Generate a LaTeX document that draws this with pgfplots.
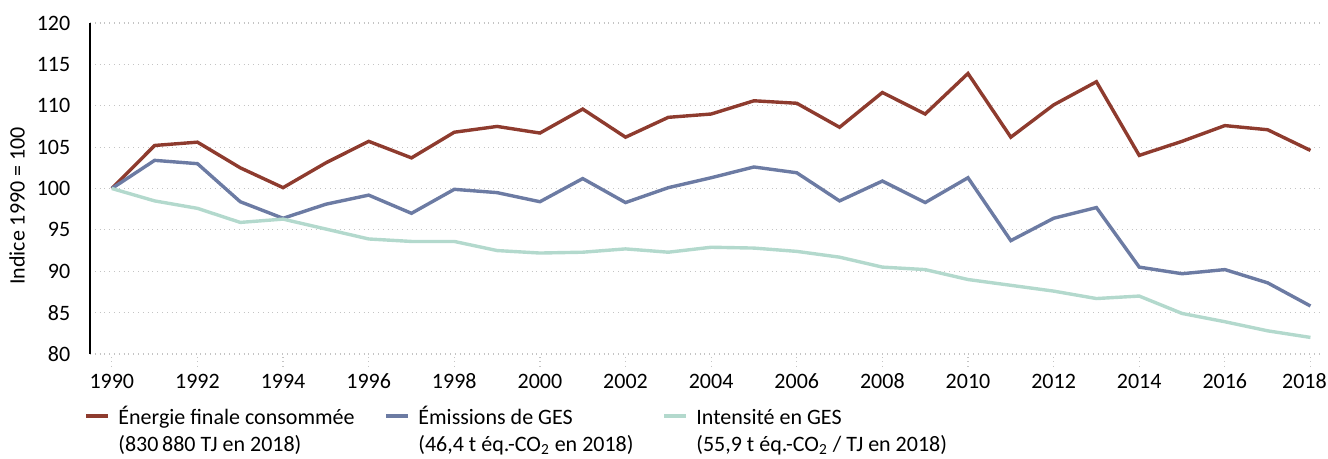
\documentclass[border=0pt]{standalone}
\usepackage{pgfplots}
\usepackage{pgfplotstable}
\pgfplotsset{compat=1.18}
\usepackage{fontspec}
\setmainfont{Carlito}
\definecolor{energie}{HTML}{8E3B2E}
\definecolor{emis}{HTML}{6C7BA3}
\definecolor{intens}{HTML}{B3D9CD}
\definecolor{gridc}{HTML}{C4C4C4}

% index 1990 = 100
\pgfplotstableread{
year  energie  emis   intens
1990  100.0    100.0  100.0
1991  105.2    103.4  98.5
1992  105.6    103.0  97.6
1993  102.5    98.4   95.9
1994  100.1    96.4   96.3
1995  103.1    98.1   95.1
1996  105.7    99.2   93.9
1997  103.7    97.0   93.6
1998  106.8    99.9   93.6
1999  107.5    99.5   92.5
2000  106.7    98.4   92.2
2001  109.6    101.2  92.3
2002  106.2    98.3   92.7
2003  108.6    100.1  92.3
2004  109.0    101.3  92.9
2005  110.6    102.6  92.8
2006  110.3    101.9  92.4
2007  107.4    98.5   91.7
2008  111.6    100.9  90.5
2009  109.0    98.3   90.2
2010  113.9    101.3  89.0
2011  106.2    93.7   88.3
2012  110.1    96.4   87.6
2013  112.9    97.7   86.7
2014  104.0    90.5   87.0
2015  105.7    89.7   84.9
2016  107.6    90.2   83.9
2017  107.1    88.6   82.8
2018  104.6    85.8   82.0
}\datatable

\newcommand{\chartfont}{\fontsize{11}{13.5}\selectfont}

\begin{document}
\chartfont
\begin{tikzpicture}
\path[use as bounding box] (0,0) rectangle (664pt,229.5pt);
\begin{axis}[
  at={(45pt,52.5pt)}, anchor=south west,
  scale only axis,
  width=616pt, height=165.5pt,
  xmin=1989.49, xmax=2018.27,
  ymin=80, ymax=120,
  xtick={1990,1992,...,2016},
  extra x ticks={2018},
  extra x tick style={xticklabel style={xshift=-3pt}},
  ytick={80,85,...,120},
  /pgf/number format/set thousands separator={},
  /pgf/number format/assume math mode=true,
  tick label style={font=\chartfont},
  axis y line*=left, axis x line*=bottom,
  x axis line style={draw=none},
  y axis line style={black, line width=1.3pt},
  ytick style={draw=none},
  xtick style={gridc, dotted, line width=0.6pt},
  tick align=outside,
  major tick length=6pt,
  ymajorgrids,
  grid style={gridc, dotted, line width=0.6pt},
  ylabel={Indice 1990 = 100},
  every axis y label/.style={at={(axis description cs:-0.0593,0.447)}, rotate=90, anchor=center, font=\chartfont},
  legend columns=3,
  legend cell align=left,
  legend style={at={(0,0)}, anchor=north west, xshift=-3pt, yshift=-25.5pt,
    draw=none, fill=none, inner sep=0pt, nodes={inner sep=0pt},
    font=\chartfont,
    /tikz/every odd column/.append style={column sep=4pt}},
  legend image code/.code={\draw[#1, line width=2pt] (0pt,0pt) -- (11pt,0pt);},
]
\addplot[energie, line width=1.7pt] table[x=year, y=energie] {\datatable};
\addlegendentry{\begin{tabular}[t]{@{}p{133pt}@{}}Énergie finale consommée\\(830\,880 TJ en 2018)\end{tabular}}
\addplot[emis, line width=1.7pt] table[x=year, y=emis] {\datatable};
\addlegendentry{\begin{tabular}[t]{@{}p{122pt}@{}}Émissions de GES\\(46,4 t éq.-CO\textsubscript{2} en 2018)\end{tabular}}
\addplot[intens, line width=1.7pt] table[x=year, y=intens] {\datatable};
\addlegendentry{\begin{tabular}[t]{@{}l@{}}Intensité en GES\\(55,9 t éq.-CO\textsubscript{2} / TJ en 2018)\end{tabular}}
\end{axis}
\end{tikzpicture}
\end{document}
